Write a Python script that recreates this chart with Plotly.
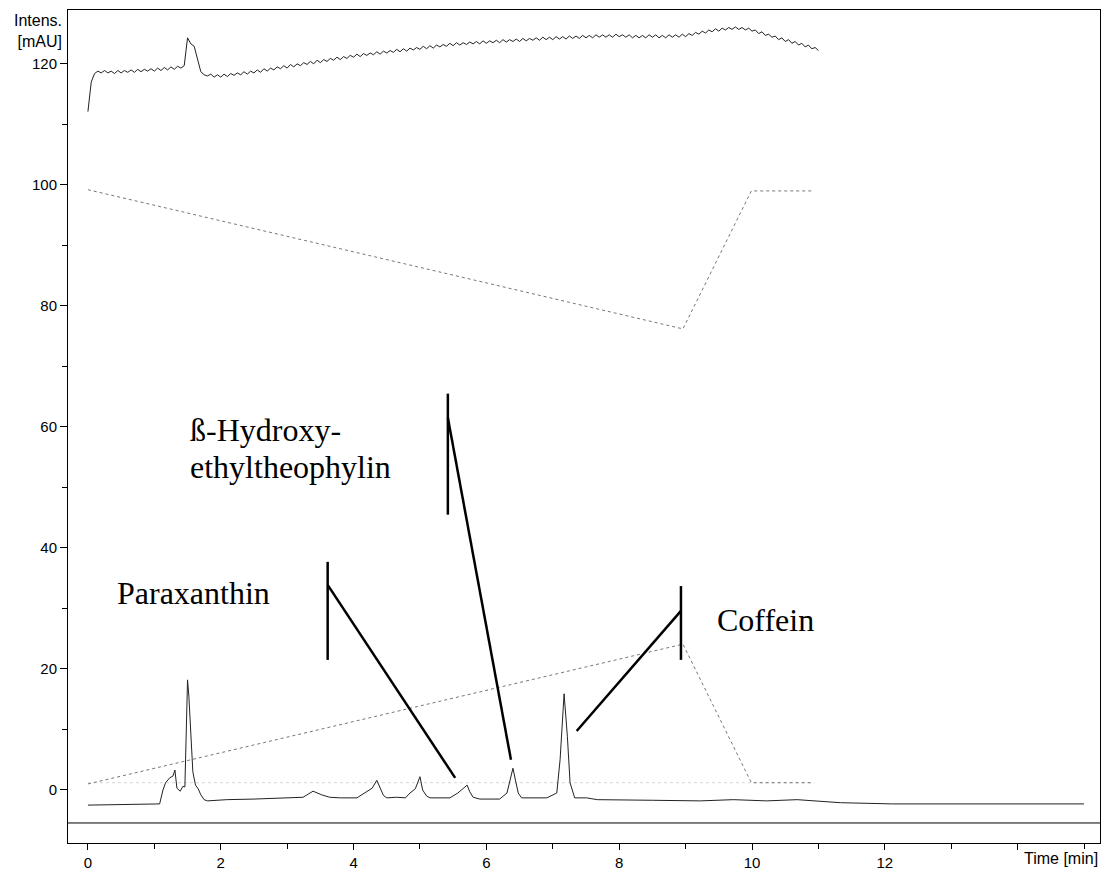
import numpy as np
import plotly.graph_objects as go

# ---------------- data ----------------
# upper trace (sampled every 0.05 min from 0)
upper_step = 0.05
upper_vals = [
    112.1, 117.0, 118.4, 118.8, 118.5, 118.9, 118.5, 118.8, 118.4, 118.9,
    118.5, 118.9, 118.6, 119.0, 118.6, 119.1, 118.7, 119.1, 118.8, 119.2,
    118.8, 119.3, 118.9, 119.4, 119.0, 119.5, 119.1, 119.6, 119.3, 119.7,
    124.3, 123.3, 122.9, 121.0, 118.7, 118.2, 118.0, 118.3, 117.8, 118.2,
    117.8, 118.3, 117.9, 118.4, 118.1, 118.5, 118.2, 118.7, 118.3, 118.8,
    118.5, 119.0, 118.6, 119.2, 118.8, 119.3, 119.0, 119.5, 119.2, 119.7,
    119.3, 119.9, 119.5, 120.0, 119.7, 120.2, 119.9, 120.4, 120.0, 120.6,
    120.2, 120.7, 120.4, 120.9, 120.6, 121.1, 120.7, 121.2, 120.9, 121.4,
    121.1, 121.6, 121.2, 121.7, 121.4, 121.8, 121.5, 122.0, 121.6, 122.1,
    121.8, 122.2, 121.9, 122.4, 122.0, 122.5, 122.1, 122.6, 122.3, 122.7,
    122.4, 122.9, 122.5, 123.0, 122.6, 123.1, 122.8, 123.2, 122.9, 123.4,
    123.0, 123.5, 123.1, 123.5, 123.2, 123.6, 123.3, 123.7, 123.3, 123.8,
    123.4, 123.8, 123.5, 123.9, 123.5, 124.0, 123.6, 124.0, 123.7, 124.1,
    123.7, 124.2, 123.8, 124.2, 123.9, 124.3, 123.9, 124.4, 124.0, 124.4,
    124.0, 124.5, 124.1, 124.5, 124.1, 124.6, 124.2, 124.6, 124.2, 124.7,
    124.3, 124.7, 124.3, 124.8, 124.4, 124.8, 124.4, 124.8, 124.4, 124.9,
    124.5, 124.8, 124.4, 124.8, 124.3, 124.7, 124.3, 124.7, 124.3, 124.8,
    124.4, 124.8, 124.3, 124.7, 124.3, 124.8, 124.4, 124.8, 124.4, 124.9,
    124.5, 125.0, 124.7, 125.2, 124.9, 125.4, 125.1, 125.6, 125.3, 125.8,
    125.4, 125.9, 125.6, 126.0, 125.7, 126.1, 125.7, 126.0, 125.6, 125.9,
    125.4, 125.6, 125.0, 125.3, 124.7, 124.9, 124.4, 124.6, 124.0, 124.3,
    123.7, 124.0, 123.4, 123.7, 123.1, 123.4, 122.8, 123.1, 122.5, 122.7,
    122.2,
]

# chromatogram (solid)
chrom_t = [0.0, 1.0, 1.08, 1.13, 1.17, 1.23, 1.28, 1.31, 1.34, 1.39, 1.43,
           1.46, 1.48, 1.50, 1.52, 1.55, 1.58, 1.62, 1.66, 1.70, 1.75, 1.80,
           2.09, 2.5, 2.89, 3.24, 3.39, 3.52, 3.64, 3.80, 4.05, 4.20, 4.28,
           4.35, 4.40, 4.45, 4.50, 4.65, 4.78, 4.85, 4.93, 5.00, 5.04, 5.10,
           5.15, 5.45, 5.57, 5.65, 5.71, 5.75, 5.80, 5.90, 6.20, 6.31, 6.36,
           6.40, 6.44, 6.48, 6.53, 6.91, 7.06, 7.11, 7.17, 7.22, 7.26, 7.33,
           7.51, 7.67, 8.5, 9.22, 9.72, 10.22, 10.68, 11.33, 12.12, 15.0]
chrom_y = [-2.5, -2.4, -2.3, 0.0, 1.2, 2.0, 2.3, 3.3, 0.3, -0.2, 0.6,
           0.5, 9.0, 18.2, 15.5, 8.0, 3.0, 0.8, 0.2, -0.8, -1.6, -1.8,
           -1.6, -1.5, -1.3, -1.2, -0.2, -0.8, -1.2, -1.3, -1.3, -0.3, 0.3,
           1.6, 0.2, -0.9, -1.3, -1.2, -1.3, -0.5, 0.2, 2.2, 0.0, -1.0,
           -1.3, -1.3, -0.5, 0.3, 0.8, -0.3, -1.2, -1.5, -1.5, -0.5, 1.8,
           3.6, 1.5, -0.5, -1.3, -1.3, -0.5, 5.0, 15.9, 8.8, 1.2, -1.3,
           -1.3, -1.6, -1.7, -1.8, -1.6, -1.8, -1.6, -2.1, -2.3, -2.3]

# gradient traces (dotted)
grad_t = [0.0, 8.96, 9.99, 10.93]
grad_a = [99.2, 76.2, 99.0, 99.0]
grad_b = [1.0, 24.1, 1.2, 1.2]
flat_t = [0.0, 10.93]
flat_y = [1.2, 1.2]

baseline_y = -5.45

# peak labels
label_text = ["Paraxanthin", "ß-Hydroxy-", "ethyltheophylin", "Coffein"]
label_x = [0.41, 1.51, 1.51, 9.45]
label_y = [32.6, 59.5, 53.4, 28.1]

# pointer lines: (x0, y0, x1, y1)
pointer_lines = [
    (3.61, 37.7, 3.61, 21.5), (3.61, 33.9, 5.53, 2.0),
    (5.42, 65.5, 5.42, 45.5), (5.42, 61.5, 6.37, 5.0),
    (8.93, 33.7, 8.93, 21.5), (8.93, 29.6, 7.36, 9.75),
]

x_tickvals = [0, 2, 4, 6, 8, 10, 12, 14]
x_ticktext = ["0", "2", "4", "6", "8", "10", "12", ""]
y_tickvals = [0, 20, 40, 60, 80, 100, 120]

# ---------------- figure ----------------
upper_t = np.arange(len(upper_vals)) * upper_step

fig = go.Figure()
fig.add_trace(go.Scatter(x=flat_t, y=flat_y, mode="lines",
                         line=dict(color="#d4d4d4", width=1, dash="dot"),
                         hoverinfo="skip"))
fig.add_trace(go.Scatter(x=grad_t, y=grad_a, mode="lines",
                         line=dict(color="#777777", width=1, dash="dot")))
fig.add_trace(go.Scatter(x=grad_t, y=grad_b, mode="lines",
                         line=dict(color="#777777", width=1, dash="dot")))
fig.add_trace(go.Scatter(x=upper_t, y=upper_vals, mode="lines",
                         line=dict(color="#222222", width=1)))
fig.add_trace(go.Scatter(x=chrom_t, y=chrom_y, mode="lines",
                         line=dict(color="#222222", width=1)))

shapes = [dict(type="line", xref="paper", yref="y", x0=0, x1=1,
               y0=baseline_y, y1=baseline_y,
               line=dict(color="black", width=1))]
for (x0, y0, x1, y1) in pointer_lines:
    shapes.append(dict(type="line", xref="x", yref="y", x0=x0, y0=y0,
                       x1=x1, y1=y1, line=dict(color="black", width=2.5)))

annotations = []
for t, x, y in zip(label_text, label_x, label_y):
    annotations.append(dict(text=t, x=x, y=y, xref="x", yref="y",
                            xanchor="left", yanchor="middle", showarrow=False,
                            font=dict(family="Liberation Serif", size=32,
                                      color="black")))
annotations.append(dict(text="Intens.<br>[mAU]", xref="paper", yref="paper",
                        x=-0.004, y=1.0, xanchor="right", yanchor="top",
                        align="right", showarrow=False,
                        font=dict(family="Liberation Sans", size=16,
                                  color="black")))
annotations.append(dict(text="Time [min]", xref="paper", yref="paper",
                        x=1.0, y=-0.006, xanchor="right", yanchor="top",
                        showarrow=False,
                        font=dict(family="Liberation Sans", size=16,
                                  color="black")))

fig.update_layout(
    width=1101, height=865,
    margin=dict(l=60, r=9, t=2, b=30),
    paper_bgcolor="white", plot_bgcolor="white",
    showlegend=False,
    shapes=shapes, annotations=annotations,
    font=dict(family="Liberation Sans", size=15, color="black"),
)
fig.update_xaxes(range=[-0.30, 15.24], tickvals=x_tickvals,
                 ticktext=x_ticktext, ticks="outside", ticklen=6,
                 tickcolor="black", showline=True, linecolor="black",
                 linewidth=1, mirror=True, showgrid=False, zeroline=False,
                 minor=dict(dtick=1, tick0=0, ticks="outside", ticklen=5,
                            tickcolor="black", showgrid=False))
fig.update_yaxes(range=[-8.76, 128.9], tickvals=y_tickvals, ticks="outside",
                 ticklen=7, tickcolor="black", showline=True,
                 linecolor="black", linewidth=1, mirror=True, showgrid=False,
                 zeroline=False,
                 minor=dict(dtick=10, tick0=0, ticks="outside", ticklen=5,
                            tickcolor="black", showgrid=False))

fig.write_html("out.html")
